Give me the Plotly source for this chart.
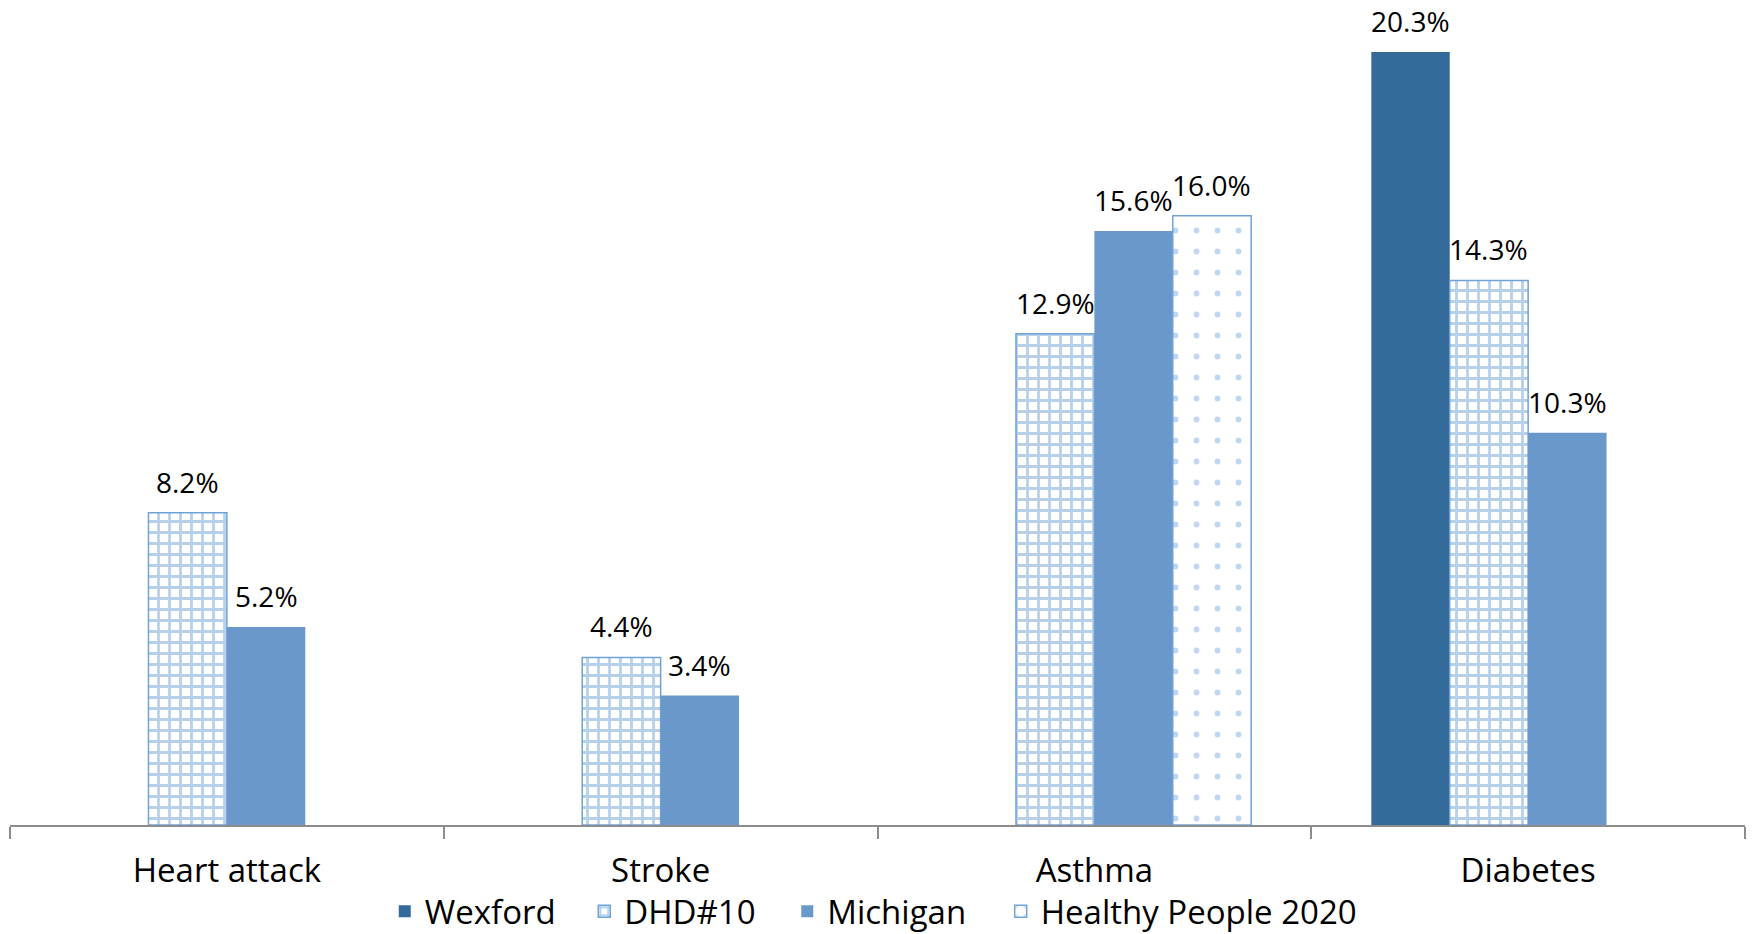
from plotly import graph_objs as go

categories = ["Heart attack", "Stroke", "Asthma", "Diabetes"]
series_names = ["Wexford", "DHD#10", "Michigan", "Healthy People 2020"]
wexford = [None, None, None, 20.3]
dhd10 = [8.2, 4.4, 12.9, 14.3]
michigan = [5.2, 3.4, 15.6, 10.3]
healthy_people = [None, None, 16.0, None]

series_values = [wexford, dhd10, michigan, healthy_people]

FONT = "Open Sans"
W, H = 1754, 934
margin = dict(l=10, r=9, t=10, b=109, autoexpand=False)
bargap = 0.277
# each legend entry gets its own legend box so the spacing can follow the reference
legend_x = [0.216, 0.331, 0.448, 0.571]

fig = go.Figure()

styles = [
	dict(marker_color="#336a99", marker_line_width=0),
	dict(marker=dict(color="white", line=dict(color="#6fa3d8", width=1.5),
	                 pattern=dict(shape="+", fgcolor="#6fa3d8", bgcolor="white",
	                              size=11, solidity=0.45))),
	dict(marker_color="#6a98cb", marker_line_width=0),
	dict(marker=dict(color="white", line=dict(color="#6fa3d8", width=1.5),
	                 pattern=dict(shape=".", fgcolor="#7ab0e0", bgcolor="white",
	                              size=21, solidity=0.06))),
]

legend_ids = ["legend", "legend2", "legend3", "legend4"]
for name, vals, style, lid in zip(series_names, series_values, styles, legend_ids):
	fig.add_trace(go.Bar(x=categories, y=vals, name=name, hoverinfo="skip",
	                     legend=lid, showlegend=True, **style))

# data labels placed above each bar
plot_w = W - margin["l"] - margin["r"]
band = plot_w / len(categories)
bar_w = band * (1 - bargap) / len(series_names)
for si, vals in enumerate(series_values):
	for cat, v in zip(categories, vals):
		if v is None:
			continue
		fig.add_annotation(
			x=cat, y=v, text=f"{v:.1f}%", showarrow=False,
			xshift=(si - 1.5) * bar_w, yshift=10, yanchor="bottom",
			font=dict(family=FONT, size=28, color="black"),
		)

fig.update_xaxes(
	showline=True, linecolor="#8c8c8c", linewidth=1.5,
	ticks="outside", tickson="boundaries", ticklen=12, tickcolor="#8c8c8c", tickwidth=1.5,
	tickfont=dict(family=FONT, size=33, color="black"), ticklabelstandoff=16,
	showgrid=False, zeroline=False,
)
fig.update_yaxes(visible=False, range=[0, 21.4], showgrid=False, zeroline=False)

legend_style = dict(orientation="h", xanchor="left", y=-0.106, yanchor="middle",
                    font=dict(family=FONT, size=33, color="black"),
                    itemwidth=30, bgcolor="rgba(0,0,0,0)")

fig.update_layout(
	barmode="group", bargap=bargap, bargroupgap=0,
	width=W, height=H, margin=margin, showlegend=True,
	plot_bgcolor="white", paper_bgcolor="white",
	font=dict(family=FONT, color="black"),
	**{lid: dict(x=lx, **legend_style) for lid, lx in zip(legend_ids, legend_x)},
)

fig.write_html("out.html", config={"displayModeBar": False},
               post_script="document.body.style.margin='0';")
